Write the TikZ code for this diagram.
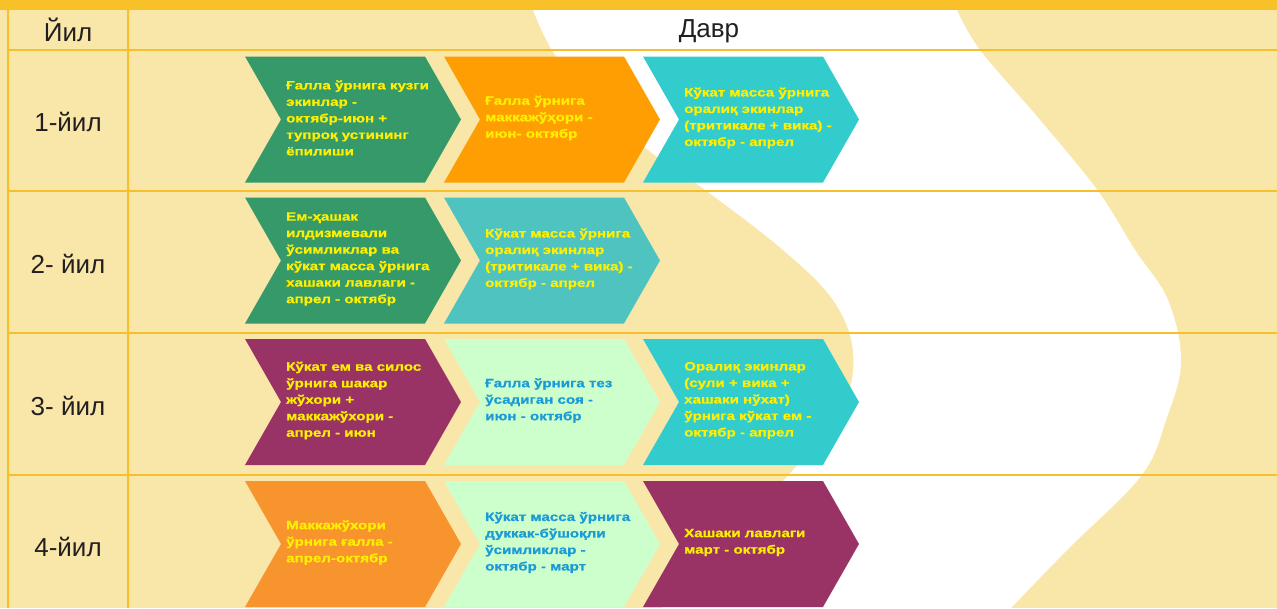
\documentclass[tikz,border=0pt]{standalone}
\usepackage{fontspec}
\setmainfont{Liberation Sans}
\newfontfamily\chevfont[FakeStretch=1.26, FakeBold=1]{Liberation Sans}
\definecolor{bgyel}{HTML}{F9E7AA}
\definecolor{rulecol}{HTML}{F7BF2C}
\definecolor{band}{HTML}{F8C12A}
\definecolor{cgreen}{HTML}{35996A}
\definecolor{corange}{HTML}{FF9E02}
\definecolor{corangeb}{HTML}{F7942D}
\definecolor{ccyan}{HTML}{33CCCC}
\definecolor{cteal}{HTML}{4EC3C0}
\definecolor{cplum}{HTML}{993366}
\definecolor{cmint}{HTML}{CCFFCC}
\definecolor{tyel}{HTML}{FFF000}
\definecolor{tblue}{HTML}{1A9AD6}
\definecolor{tdark}{HTML}{231F20}
% chevron: left x, centre y, fill
\newcommand{\chevron}[3]{%
  \fill[#3] (#1,#2-63) -- ++(180,0) -- ++(36,63) -- ++(-36,63) -- ++(-180,0) -- ++(36,-63) -- cycle;}
\begin{document}
\begin{tikzpicture}[x=1pt, y=-1pt,
  cell/.style={font=\fontsize{26}{30}\selectfont, text=tdark},
  txt/.style={font=\chevfont\bfseries\fontsize{12}{16.5}\selectfont, align=left, anchor=west, inner sep=0pt, text=tyel}]
  \useasboundingbox (0,0) rectangle (1277,608);
  % background and white wave
  \fill[bgyel] (0,0) rectangle (1277,608);
  \fill[white] plot[smooth, tension=0.6] coordinates {(533,10) (552,50) (590,100) (648,150) (708,192) (783,250) (833,300) (853,352) (842,410) (793,470) (722,545) (662,608)}
    -- plot[smooth, tension=0.6] coordinates {(1011,608) (1067,550) (1141,476) (1166,420) (1181,362) (1168,300) (1135,250) (1098,191) (1040,120) (980,50) (957,10)} -- cycle;
  % table rules
  \fill[rulecol] (7,10) rectangle (9,608) (127,10) rectangle (129,608);
  \foreach \y in {50,191,333,475}
    \fill[rulecol] (8,\y-1) rectangle (1277,\y+1);
  \fill[band] (0,0) rectangle (1277,10);
  % header and years
  \node[cell] (yil) at (68,30) {Йил};
  \node[cell] (davr) at (709,31) {Давр};
  \node[cell] (y1) at (68,122) {1-йил};
  \node[cell] (y2) at (68,264) {2- йил};
  \node[cell] (y3) at (68,406) {3- йил};
  \node[cell] (y4) at (68,547) {4-йил};
  % year 1
  \chevron{245}{119.5}{cgreen} \chevron{444}{119.5}{corange} \chevron{643}{119.5}{ccyan}
  \node[txt] (a1) at (286,118) {Ғалла ўрнига кузги\\экинлар -\\октябр-июн +\\тупроқ устининг\\ёпилиши};
  \node[txt] (a2) at (485,118) {Ғалла ўрнига\\маккажўҳори -\\июн- октябр};
  \node[txt] (a3) at (684,118) {Кўкат масса ўрнига\\оралиқ экинлар\\(тритикале + вика) -\\октябр - апрел};
  % year 2
  \chevron{245}{260.5}{cgreen} \chevron{444}{260.5}{cteal}
  \node[txt] (b1) at (286,259) {Ем-ҳашак\\илдизмевали\\ўсимликлар ва\\кўкат масса ўрнига\\хашаки лавлаги -\\апрел - октябр};
  \node[txt] (b2) at (485,259) {Кўкат масса ўрнига\\оралиқ экинлар\\(тритикале + вика) -\\октябр - апрел};
  % year 3
  \chevron{245}{402}{cplum} \chevron{444}{402}{cmint} \chevron{643}{402}{ccyan}
  \node[txt] (c1) at (286,400.5) {Кўкат ем ва силос\\ўрнига шакар\\жўхори +\\маккажўхори -\\апрел - июн};
  \node[txt, text=tblue] (c2) at (485,400.5) {Ғалла ўрнига тез\\ўсадиган соя -\\июн - октябр};
  \node[txt] (c3) at (684,400.5) {Оралиқ экинлар\\(сули + вика +\\хашаки нўхат)\\ўрнига кўкат ем -\\октябр - апрел};
  % year 4
  \chevron{245}{544}{corangeb} \chevron{444}{544}{cmint} \chevron{643}{544}{cplum}
  \node[txt] (d1) at (286,542.5) {Маккажўхори\\ўрнига ғалла -\\апрел-октябр};
  \node[txt, text=tblue] (d2) at (485,542.5) {Кўкат масса ўрнига\\дуккак-бўшоқли\\ўсимликлар -\\октябр - март};
  \node[txt] (d3) at (684,542.5) {Хашаки лавлаги\\март - октябр};
\end{tikzpicture}
\end{document}
